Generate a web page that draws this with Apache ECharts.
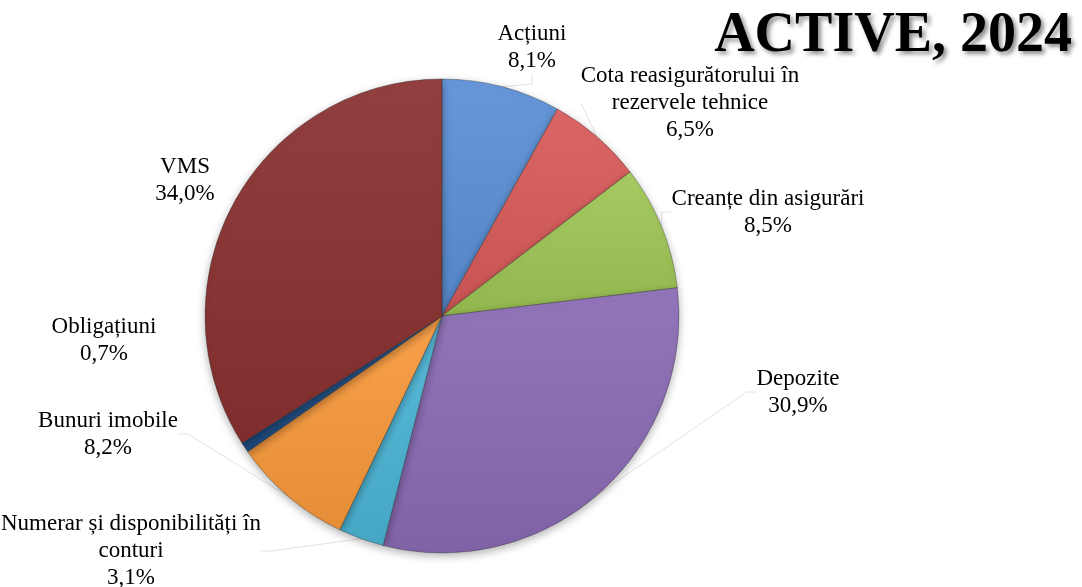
<!DOCTYPE html>
<html>
<head>
<meta charset="utf-8">
<script src="https://cdn.jsdelivr.net/npm/echarts@6/dist/echarts.min.js"></script>
<style>
html,body{margin:0;padding:0;background:#fff;}
#c{width:1082px;height:587px;}
</style>
</head>
<body>
<div id="c"></div>
<script>
const categories = [
  'Acțiuni',
  'Cota reasigurătorului în\nrezervele tehnice',
  'Creanțe din asigurări',
  'Depozite',
  'Numerar și disponibilități în\nconturi',
  'Bunuri imobile',
  'Obligațiuni',
  'VMS'
];
const values = [8.1, 6.5, 8.5, 30.9, 3.1, 8.2, 0.7, 34.0];
const titleText = 'ACTIVE, 2024';

const palette = ['#5A8FD5','#D85B59','#9FC756','#8B6BB5','#4CB5D6','#F99A3C','#1F4E85','#8A3131'];
const labelPos = [[532,47],[690,103],[768,212],[798,392],[131,551],[108,434],[104,340],[185,180]];
const showLine = [true,true,true,true,true,true,false,false];

function shade(hex, f){
  const n = parseInt(hex.slice(1),16);
  let r=(n>>16)&255,g=(n>>8)&255,b=n&255;
  if(f>0){r+= (255-r)*f; g+=(255-g)*f; b+=(255-b)*f;}
  else {r*=1+f; g*=1+f; b*=1+f;}
  return 'rgb('+Math.round(r)+','+Math.round(g)+','+Math.round(b)+')';
}

const chart = echarts.init(document.getElementById('c'), null, {renderer:'canvas'});
const data = categories.map((n,i)=>({
  name:n, value:values[i],
  itemStyle:{color:{type:'linear',x:0,y:0,x2:0,y2:1,colorStops:[
    {offset:0,color:shade(palette[i],0.07)},
    {offset:1,color:shade(palette[i],-0.08)}]}},
  labelLine:{show:showLine[i]}
}));

chart.setOption({
  animation:false,
  backgroundColor:'#fff',
  title:{
    text:titleText, right:5, top:4,
    textStyle:{fontFamily:'Liberation Serif',fontWeight:'bold',fontSize:56,color:'#000',
      textShadowColor:'rgba(0,0,0,0.45)',textShadowBlur:4,textShadowOffsetX:3,textShadowOffsetY:3}
  },
  series:[{
    type:'pie',
    center:[442,316],
    radius:237,
    startAngle:90,
    clockwise:true,
    data:data,
    itemStyle:{borderColor:'rgba(40,40,40,0.35)',borderWidth:1,
      shadowBlur:8,shadowColor:'rgba(0,0,0,0.3)',shadowOffsetY:3},
    label:{
      show:true,
      fontFamily:'Liberation Serif',fontSize:23,color:'#000',lineHeight:27,align:'center',
      formatter:p=>p.name+'\n'+p.value.toFixed(1).replace('.',',')+'%'
    },
    labelLine:{show:true,length:10,length2:10,lineStyle:{color:'#e3e3e3',width:1}},
    labelLayout:function(p){
      const q=labelPos[p.dataIndex];
      return {x:q[0],y:q[1],align:'center',verticalAlign:'middle'};
    },
    emphasis:{disabled:true}
  }]
});
</script>
</body>
</html>
